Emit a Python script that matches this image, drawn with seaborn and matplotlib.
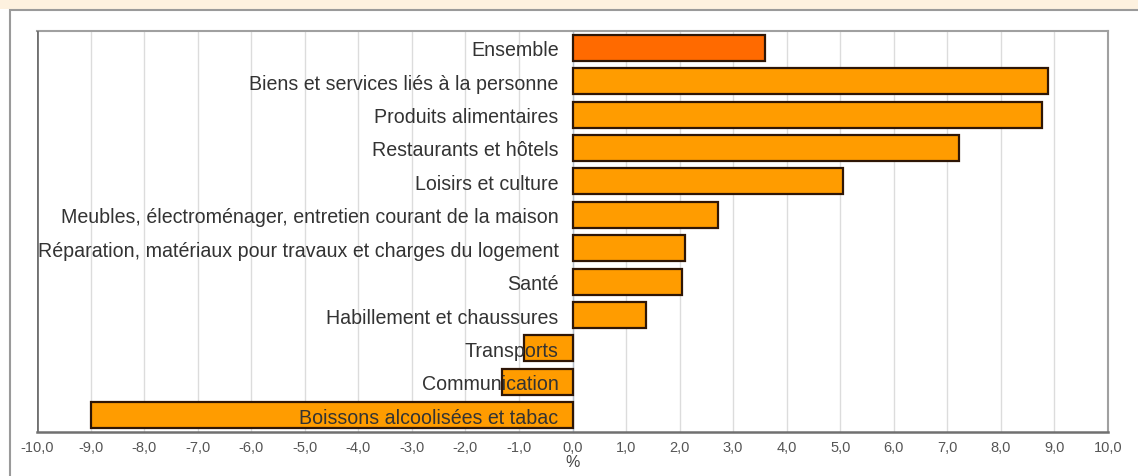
import matplotlib
matplotlib.use("Agg")
import matplotlib.pyplot as plt
import seaborn as sns
import numpy as np
import pandas as pd
from matplotlib.patches import Rectangle
from matplotlib.ticker import FixedLocator

categories = [
    "Ensemble",
    "Biens et services liés à la personne",
    "Produits alimentaires",
    "Restaurants et hôtels",
    "Loisirs et culture",
    "Meubles, électroménager, entretien courant de la maison",
    "Réparation, matériaux pour travaux et charges du logement",
    "Santé",
    "Habillement et chaussures",
    "Transports",
    "Communication",
    "Boissons alcoolisées et tabac",
]
values = [3.6, 8.88, 8.76, 7.22, 5.05, 2.71, 2.11, 2.05, 1.38, -0.9, -1.31, -9.0]
x_ticks = list(range(-10, 11))
x_tick_labels = [f"{v:.1f}".replace(".", ",") for v in x_ticks]
x_label = "%"

sns.set_theme(style="white")
plt.rcParams["font.family"] = ["Liberation Sans", "DejaVu Sans"]

fig = plt.figure(figsize=(11.38, 4.77), dpi=100)
fig.patch.set_facecolor("white")

# top light orange strip and outer frame
fig.patches.append(Rectangle((0, 1 - 10 / 477), 1, 10 / 477, transform=fig.transFigure,
                             facecolor="#fdf1df", edgecolor="none", zorder=-2))
fig.patches.append(Rectangle((10 / 1138, -0.1), 1.2, 1 - 11 / 477 + 0.1, transform=fig.transFigure,
                             facecolor="white", edgecolor="#9a9a9a", linewidth=1.5, zorder=-1))

ax = fig.add_axes([37 / 1138, 1 - 433 / 477, (1108 - 37) / 1138, (433 - 32) / 477])
ax.set_zorder(5)
ax.set_facecolor("white")

df = pd.DataFrame({"cat": categories, "val": values})
palette = {c: ("#ff6a00" if c == "Ensemble" else "#ff9c00") for c in categories}
sns.barplot(data=df, x="val", y="cat", hue="cat", palette=palette, legend=False,
            orient="h", width=0.78, saturation=1, edgecolor="#2e1606", linewidth=1.6,
            ax=ax, zorder=3)

ax.set_xlim(-10, 10)
ax.set_ylim(len(categories) - 0.5, -0.5)
ax.set_xticks(x_ticks)
ax.set_xticklabels(x_tick_labels, fontsize=10.5, color="#555555")
ax.set_xlabel(x_label, fontsize=11.5, color="#444444", labelpad=0)
ax.set_ylabel("")

ax.grid(axis="x", color="#dcdcdc", linewidth=1, zorder=0)
ax.grid(axis="y", visible=False)
ax.set_axisbelow(True)
ax.yaxis.set_zorder(10)

# y axis at zero
ax.spines["left"].set_position(("data", 0))
ax.spines["left"].set_color("#b8c0cc")
ax.spines["left"].set_linewidth(1)
ax.tick_params(axis="y", which="major", length=0, pad=10, labelsize=14.1, labelcolor="#333333")
ax.yaxis.set_minor_locator(FixedLocator(np.arange(-0.5, len(categories), 1.0)))
ax.tick_params(axis="y", which="minor", length=4, color="#8a9ab0", width=1, direction="out")

ax.tick_params(axis="x", which="major", length=4, color="#888888", width=1, direction="out", pad=2)

for s in ["top", "right"]:
    ax.spines[s].set_color("#a0a0a0")
    ax.spines[s].set_linewidth(1.5)
ax.spines["bottom"].set_color("#707070")
ax.spines["bottom"].set_linewidth(1.8)

# frame line at the left edge (x = -10)
ax.axvline(-10, color="#707070", linewidth=2, zorder=4)

fig.savefig("out.png", dpi=100)
